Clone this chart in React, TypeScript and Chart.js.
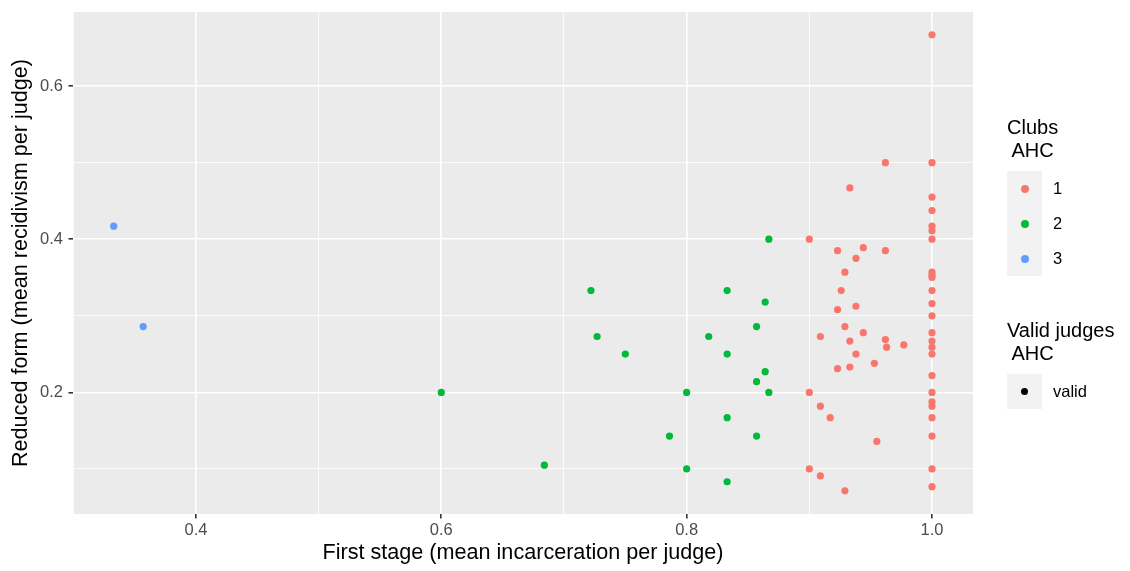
import React, { useEffect, useRef } from "react";
import { Chart, registerables } from "chart.js";

Chart.register(...registerables);

// Club 1 (red)
const club1X = [
  1.0, 0.962, 1.0, 0.933, 1.0, 1.0, 1.0, 1.0, 1.0, 0.9, 0.923, 0.944, 0.938, 0.962,
  1.0, 1.0, 1.0, 0.929, 0.926, 1.0, 1.0, 0.938, 0.923, 1.0, 0.929, 0.909, 0.944, 1.0,
  0.933, 0.962, 0.963, 0.977, 1.0, 1.0, 1.0, 0.938, 0.953, 0.923, 0.933, 1.0, 0.9, 1.0,
  1.0, 1.0, 0.909, 0.917, 1.0, 0.955, 1.0, 0.9, 1.0, 0.909, 0.929, 1.0,
];
const club1Y = [
  0.667, 0.5, 0.5, 0.467, 0.455, 0.4375, 0.417, 0.411, 0.4, 0.4, 0.385, 0.389, 0.375, 0.385,
  0.357, 0.353, 0.35, 0.357, 0.333, 0.333, 0.316, 0.3125, 0.308, 0.3, 0.286, 0.273, 0.278, 0.278,
  0.267, 0.269, 0.259, 0.262, 0.267, 0.259, 0.25, 0.25, 0.238, 0.231, 0.233, 0.222, 0.2, 0.2,
  0.1875, 0.182, 0.182, 0.167, 0.167, 0.136, 0.143, 0.1, 0.1, 0.0909, 0.0714, 0.0769,
];

// Club 2 (green)
const club2X = [
  0.6, 0.684, 0.722, 0.727, 0.75, 0.786, 0.8, 0.8, 0.818, 0.833, 0.833, 0.833, 0.833,
  0.857, 0.857, 0.857, 0.864, 0.864, 0.867, 0.867,
];
const club2Y = [
  0.2, 0.105, 0.333, 0.273, 0.25, 0.143, 0.2, 0.1, 0.273, 0.333, 0.25, 0.167, 0.0833,
  0.286, 0.214, 0.143, 0.318, 0.227, 0.2, 0.4,
];

// Club 3 (blue)
const club3X = [0.333, 0.357];
const club3Y = [0.417, 0.286];

const xTicks = [0.3, 0.4, 0.5, 0.6, 0.7, 0.8, 0.9, 1.0];
const yTicks = [0.1, 0.2, 0.3, 0.4, 0.5, 0.6];
const clubLabels = ["1", "2", "3"];
const clubColors = ["#F8766D", "#00BA38", "#619CFF"];

const FONT = "'Liberation Sans', Arial, Helvetica, sans-serif";

const isMajor = (v: number) => Math.round(v * 10) % 2 === 0;

const toPoints = (xs: number[], ys: number[]) => xs.map((x, i) => ({ x, y: ys[i] }));

const panelBg = {
  id: "panelBg",
  beforeDraw(chart: any) {
    const { ctx, chartArea } = chart;
    ctx.save();
    ctx.fillStyle = "#EBEBEB";
    ctx.fillRect(chartArea.left, chartArea.top, chartArea.right - chartArea.left, chartArea.bottom - chartArea.top);
    ctx.restore();
  },
};

function LegendText(props: { left: number; top: number; size: number; text: string }) {
  return (
    <div
      style={{
        position: "absolute",
        left: props.left,
        top: props.top,
        fontFamily: FONT,
        fontSize: props.size,
        lineHeight: "1",
        whiteSpace: "pre",
        color: "#000",
      }}
    >
      {props.text}
    </div>
  );
}

export default function App() {
  const canvasRef = useRef<HTMLCanvasElement | null>(null);

  useEffect(() => {
    const canvas = canvasRef.current;
    if (!canvas) return;
    const datasets = [
      { label: clubLabels[0], data: toPoints(club1X, club1Y), color: clubColors[0] },
      { label: clubLabels[1], data: toPoints(club2X, club2Y), color: clubColors[1] },
      { label: clubLabels[2], data: toPoints(club3X, club3Y), color: clubColors[2] },
    ].map((d) => ({
      label: d.label,
      data: d.data,
      backgroundColor: d.color,
      borderWidth: 0,
      pointRadius: 3.6,
      pointHoverRadius: 3.6,
    }));

    const gridOpts = {
      color: "#FFFFFF",
      lineWidth: (c: any) => (isMajor(c.tick ? c.tick.value : 0) ? 1.6 : 0.8),
      tickColor: (c: any) => (isMajor(c.tick ? c.tick.value : 0) ? "#333333" : "rgba(0,0,0,0)"),
      tickWidth: 1.6,
      tickLength: 4.5,
      drawTicks: true,
    };

    const chart = new Chart(canvas, {
      type: "scatter",
      data: { datasets },
      plugins: [panelBg],
      options: {
        animation: false,
        responsive: false,
        maintainAspectRatio: false,
        events: [],
        layout: { padding: { top: 12, right: 157, left: 0, bottom: 0 } },
        plugins: { legend: { display: false }, tooltip: { enabled: false } },
        scales: {
          x: {
            type: "linear",
            min: 0.2998,
            max: 1.0334,
            border: { display: false },
            grid: gridOpts as any,
            afterBuildTicks: (scale: any) => {
              scale.ticks = xTicks.map((v) => ({ value: v }));
            },
            afterFit: (scale: any) => {
              scale.height = 57;
              scale.paddingLeft = 0;
              scale.paddingRight = 0;
              scale.paddingTop = 0;
              scale.paddingBottom = 0;
            },
            ticks: {
              autoSkip: false,
              maxRotation: 0,
              minRotation: 0,
              padding: 2,
              color: "#4D4D4D",
              font: { family: FONT, size: 16.5 },
              callback: (v: any) => (isMajor(Number(v)) ? Number(v).toFixed(1) : ""),
            },
            title: {
              display: true,
              text: "First stage (mean incarceration per judge)",
              color: "#000000",
              font: { family: FONT, size: 21.6 },
              padding: { top: 0, bottom: 5 },
            },
          },
          y: {
            type: "linear",
            min: 0.0412,
            max: 0.6967,
            border: { display: false },
            grid: gridOpts as any,
            afterBuildTicks: (scale: any) => {
              scale.ticks = yTicks.map((v) => ({ value: v }));
            },
            afterFit: (scale: any) => {
              scale.width = 73;
              scale.paddingLeft = 0;
              scale.paddingRight = 0;
              scale.paddingTop = 0;
              scale.paddingBottom = 0;
            },
            ticks: {
              autoSkip: false,
              padding: 5.5,
              color: "#4D4D4D",
              font: { family: FONT, size: 16.5 },
              callback: (v: any) => (isMajor(Number(v)) ? Number(v).toFixed(1) : ""),
            },
            title: {
              display: true,
              text: "Reduced form (mean recidivism per judge)",
              color: "#000000",
              font: { family: FONT, size: 21.6 },
              padding: { top: 8.5, bottom: 0 },
            },
          },
        },
      },
    });
    return () => chart.destroy();
  }, []);

  const keyLeft = 1007;
  const keyW = 35;
  const keyH = 35;
  const clubKeysTop = 171;
  const validKeyTop = 374;

  return (
    <div style={{ position: "absolute", left: 0, top: 0, width: 1130, height: 571, background: "#FFFFFF" }}>
      <canvas ref={canvasRef} width={1130} height={571} style={{ position: "absolute", left: 0, top: 0, width: 1130, height: 571 }} />
      <LegendText left={1007} top={117} size={20} text={"Clubs"} />
      <LegendText left={1007} top={140} size={20} text={" AHC"} />
      <div style={{ position: "absolute", left: keyLeft, top: clubKeysTop, width: keyW, height: keyH * 3, background: "#F2F2F2" }} />
      {clubLabels.map((lab, i) => (
        <React.Fragment key={lab}>
          <div
            style={{
              position: "absolute",
              left: keyLeft + keyW / 2 - 4,
              top: clubKeysTop + keyH * i + keyH / 2 - 4,
              width: 8,
              height: 8,
              borderRadius: 4,
              background: clubColors[i],
            }}
          />
          <LegendText left={1053} top={clubKeysTop + keyH * i + keyH / 2 - 8.5} size={16.5} text={lab} />
        </React.Fragment>
      ))}
      <LegendText left={1007} top={320} size={20} text={"Valid judges"} />
      <LegendText left={1007} top={343} size={20} text={" AHC"} />
      <div style={{ position: "absolute", left: keyLeft, top: validKeyTop, width: keyW, height: keyH, background: "#F2F2F2" }} />
      <div
        style={{
          position: "absolute",
          left: keyLeft + keyW / 2 - 3.5,
          top: validKeyTop + keyH / 2 - 3.5,
          width: 7,
          height: 7,
          borderRadius: 3.5,
          background: "#000000",
        }}
      />
      <LegendText left={1053} top={validKeyTop + keyH / 2 - 8.5} size={16.5} text={"valid"} />
    </div>
  );
}
